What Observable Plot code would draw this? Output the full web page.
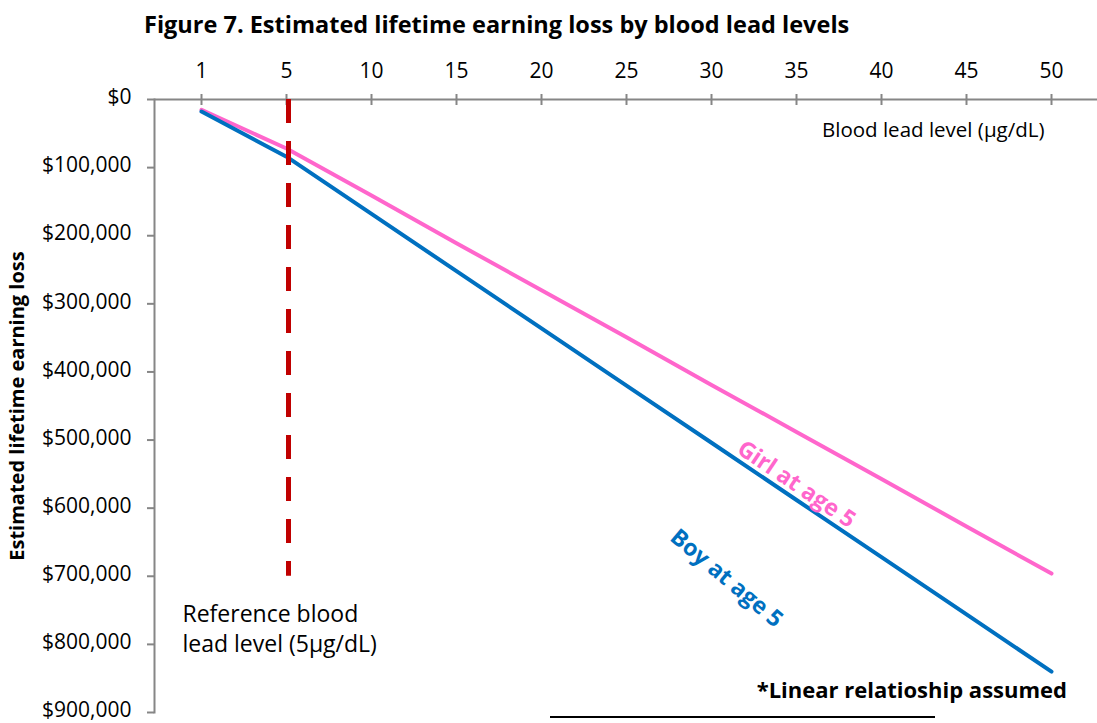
<!DOCTYPE html>
<html>
<head>
<meta charset="utf-8">
<script src="https://cdn.jsdelivr.net/npm/d3@7"></script>
<script src="https://cdn.jsdelivr.net/npm/@observablehq/plot@0.6"></script>
<style>
  html, body { margin: 0; padding: 0; background: #fff; }
  #wrap { position: relative; width: 1097px; height: 723px; overflow: hidden; font-family: "Open Sans", sans-serif; }
  #title { height: 40px; position: relative; }
  #title span { position: absolute; left: 144px; top: 10px; font-weight: bold; font-size: 23.5px; white-space: nowrap; color: #000; line-height: 1.2; }
  #note { position: absolute; right: 30px; top: 678px; font-weight: bold; font-size: 22px; line-height: 22px; white-space: nowrap; color: #000; }
  #rule { position: absolute; left: 550px; top: 716px; width: 385px; height: 2px; background: #000; }
</style>
</head>
<body>
<div id="wrap">
  <div id="title"><span>Figure 7. Estimated lifetime earning loss by blood lead levels</span></div>
  <div id="chart"></div>
  <div id="note">*Linear relatioship assumed</div>
  <div id="rule"></div>
</div>
<script>
// Blood lead levels (µg/dL), categorical axis
const levels = [1, 5, 10, 15, 20, 25, 30, 35, 40, 45, 50];
// Estimated lifetime earning loss ($)
const girlLoss = [15000, 72000, 141000, 211000, 280000, 349000, 419000, 488000, 557000, 627000, 696000];
const boyLoss  = [17600, 84000, 168000, 252000, 336000, 420000, 504000, 588000, 672000, 756000, 840000];
// Y axis ticks
const yTicks = [0, 100000, 200000, 300000, 400000, 500000, 600000, 700000, 800000, 900000];
// Reference level marker
const referenceLevel = [5];
const referenceLossStart = 0;
const referenceLossEnd = 700000;
// Annotation texts
const axisTitleX = "Blood lead level (µg/dL)";
const referenceLabel = "Reference blood\nlead level (5µg/dL)";
const girlLabel = "Girl at age 5";
const boyLabel = "Boy at age 5";
const yTitle = "Estimated lifetime earning loss";

const girl = levels.map((l, i) => ({level: l, loss: girlLoss[i]}));
const boy = levels.map((l, i) => ({level: l, loss: boyLoss[i]}));

const gray = "#868686";
const fmt = d => "$" + d3.format(",")(d);

const chart = Plot.plot({
  width: 1097,
  height: 683,
  marginTop: 59,
  marginBottom: 11,
  marginLeft: 154,
  marginRight: 0,
  style: {fontFamily: "'Open Sans', sans-serif", background: "#fff", color: "#000", overflow: "visible"},
  x: {type: "point", domain: levels, padding: 0.5, align: 0.5},
  y: {domain: [0, 900000], reverse: true},
  marks: [
    Plot.frame({anchor: "left", stroke: gray, strokeWidth: 2}),
    Plot.ruleY([0], {stroke: gray, strokeWidth: 2}),
    Plot.axisY({ticks: yTicks, tickSize: 7, tickFormat: () => "", stroke: gray, strokeWidth: 2, label: null}),
    Plot.axisY({ticks: yTicks, tickFormat: fmt, tickSize: 0, tickPadding: 23, dy: -2, fontSize: 21, fill: "#000", label: null}),
    Plot.axisX({anchor: "top", tickSize: 11, dy: 5, tickFormat: () => "", stroke: gray, strokeWidth: 2, label: null}),
    Plot.axisX({anchor: "top", tickSize: 0, tickPadding: 22, fontSize: 21, fill: "#000", label: null}),
    Plot.line(girl, {x: "level", y: "loss", stroke: "#FF66CC", strokeWidth: 4}),
    Plot.line(boy, {x: "level", y: "loss", stroke: "#0070C0", strokeWidth: 4}),
    Plot.ruleX(referenceLevel, {y1: referenceLossStart, y2: referenceLossEnd, stroke: "#C00000", strokeWidth: 5, strokeDasharray: "24,18", dx: 2}),
    Plot.text([axisTitleX], {x: () => 50, y: () => 45500, textAnchor: "end", dx: -7, fontSize: 20.5, fill: "#000"}),
    Plot.text([referenceLabel], {x: () => 1, y: () => 775000, textAnchor: "start", dx: -19, fontSize: 23, lineHeight: 1.3, fill: "#000"}),
    Plot.text([girlLabel], {x: () => 35, y: () => 565000, rotate: 34, fontSize: 23, fontWeight: "bold", fill: "#FF66CC"}),
    Plot.text([boyLabel], {x: () => 30, y: () => 703000, dx: 15, rotate: 40, fontSize: 23, fontWeight: "bold", fill: "#0070C0"}),
    Plot.text([yTitle], {frameAnchor: "left", dx: -137, rotate: -90, textAnchor: "middle", fontSize: 20, fontWeight: "bold", fill: "#000"})
  ]
});
document.getElementById("chart").appendChild(chart);
</script>
</body>
</html>
